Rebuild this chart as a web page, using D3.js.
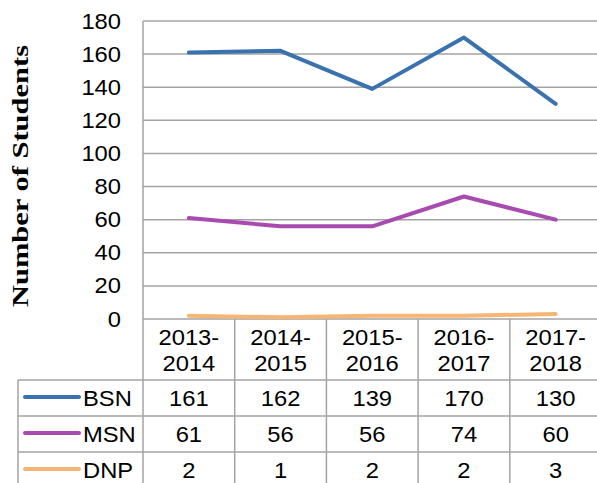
<!DOCTYPE html>
<html>
<head>
<meta charset="utf-8">
<script src="https://cdn.jsdelivr.net/npm/d3@7"></script>
<style>
  html, body { margin: 0; padding: 0; background: #fff; }
  svg { display: block; }
  text { font-family: "Liberation Sans", Arial, sans-serif; fill: #000; }
</style>
</head>
<body>
<svg id="chart" width="597" height="483"></svg>
<script>
// ---- data ----
const categories = ["2013-2014", "2014-2015", "2015-2016", "2016-2017", "2017-2018"];
const seriesNames = ["BSN", "MSN", "DNP"];
const bsnValues = [161, 162, 139, 170, 130];
const msnValues = [61, 56, 56, 74, 60];
const dnpValues = [2, 1, 2, 2, 3];
const yTicks = [0, 20, 40, 60, 80, 100, 120, 140, 160, 180];
const yTitle = "Number of Students";

// ---- styles ----
const colors = { BSN: "#3a72b0", MSN: "#a94ab1", DNP: "#f5b574" };
const gridColor = "#a3a3a3";
const fontSize = 22;
const hScale = 1.08;

const series = [
  { name: seriesNames[0], values: bsnValues },
  { name: seriesNames[1], values: msnValues },
  { name: seriesNames[2], values: dnpValues }
];

const svg = d3.select("#chart");

const plotLeft = 143, plotTop = 21, plotBottom = 319;
const colW = 91.7;
const plotRight = plotLeft + colW * categories.length;
const tableLeft = 18;
const headerBottom = 380;
const rowH = 36;

const x = d3.scaleBand().domain(categories).range([plotLeft, plotRight]).padding(0);
const y = d3.scaleLinear().domain([0, 180]).range([plotBottom, plotTop]);
const cx = c => x(c) + x.bandwidth() / 2;

// gridlines
svg.append("g").selectAll("line").data(yTicks).join("line")
  .attr("x1", plotLeft).attr("x2", plotRight)
  .attr("y1", d => y(d)).attr("y2", d => y(d))
  .attr("stroke", gridColor).attr("stroke-width", 1.5);

// y axis labels
const yAxis = svg.append("g")
  .attr("transform", `translate(${plotLeft},0)`)
  .call(d3.axisLeft(y).tickValues(yTicks).tickSize(0).tickPadding(22));
yAxis.select(".domain").remove();
yAxis.selectAll("text")
  .attr("x", 0)
  .attr("transform", `translate(-22,0) scale(${hScale},1)`)
  .attr("font-size", fontSize)
  .attr("font-family", "Liberation Sans, Arial, sans-serif")
  .attr("fill", "#000");

// y title
svg.append("text")
  .attr("transform", `translate(28,176) rotate(-90)`)
  .attr("text-anchor", "middle")
  .attr("textLength", 262)
  .attr("lengthAdjust", "spacingAndGlyphs")
  .style("font-family", "'Liberation Serif', 'Times New Roman', serif")
  .style("font-weight", "bold")
  .style("font-size", "23px")
  .text(yTitle);

// table grid
const tableBottom = headerBottom + rowH * series.length;
const tg = svg.append("g").attr("stroke", gridColor).attr("stroke-width", 1.5);
const colEdges = categories.map(c => x(c)).concat([plotRight]);
tg.selectAll("line.v").data(colEdges).join("line")
  .attr("class", "v")
  .attr("x1", d => d).attr("x2", d => d)
  .attr("y1", (d, i) => i === 0 ? plotTop : plotBottom)
  .attr("y2", tableBottom);
tg.append("line")
  .attr("x1", tableLeft).attr("x2", tableLeft)
  .attr("y1", headerBottom).attr("y2", tableBottom);
const rowEdges = d3.range(series.length + 1).map(i => headerBottom + i * rowH);
tg.selectAll("line.h").data(rowEdges).join("line")
  .attr("class", "h")
  .attr("x1", tableLeft).attr("x2", plotRight)
  .attr("y1", d => d).attr("y2", d => d);

// header labels (two lines)
const hdr = svg.append("g").selectAll("g").data(categories).join("g")
  .attr("transform", d => `translate(${cx(d)},0) scale(${hScale},1)`);
hdr.append("text")
  .attr("text-anchor", "middle").attr("font-size", fontSize)
  .attr("x", 0).attr("y", 345)
  .text(d => d.split("-")[0] + "-");
hdr.append("text")
  .attr("text-anchor", "middle").attr("font-size", fontSize)
  .attr("x", 0).attr("y", 371)
  .text(d => d.split("-")[1]);

// lines
const line = d3.line()
  .x((d, i) => cx(categories[i]))
  .y(d => y(d));
svg.append("g").selectAll("path").data(series).join("path")
  .attr("d", s => line(s.values))
  .attr("fill", "none")
  .attr("stroke", s => colors[s.name])
  .attr("stroke-width", 4)
  .attr("stroke-linejoin", "round")
  .attr("stroke-linecap", "round");

// table rows
const rows = svg.append("g").selectAll("g").data(series).join("g")
  .attr("transform", (s, i) => `translate(0,${headerBottom + i * rowH})`);
rows.append("line")
  .attr("x1", 25).attr("x2", 79)
  .attr("y1", rowH / 2 - 1).attr("y2", rowH / 2 - 1)
  .attr("stroke", s => colors[s.name])
  .attr("stroke-width", 4)
  .attr("stroke-linecap", "round");
rows.append("text")
  .attr("transform", `translate(83,25.5) scale(${hScale},1)`)
  .attr("font-size", fontSize)
  .text(s => s.name);
rows.selectAll("text.v").data(s => s.values).join("text")
  .attr("class", "v")
  .attr("transform", (d, i) => `translate(${cx(categories[i])},25.5) scale(${hScale},1)`)
  .attr("text-anchor", "middle")
  .attr("font-size", fontSize)
  .text(d => d);
</script>
</body>
</html>
